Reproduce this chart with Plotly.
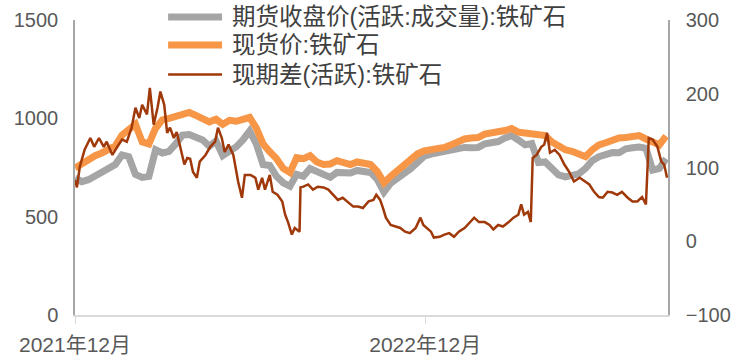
import pandas as pd
import plotly.graph_objects as go

# Weekly price observations (yuan/ton)
price_dates = pd.date_range("2021-12-01", periods=89, freq="7D")

futures_close = [697, 678, 688, 705, 727, 745, 765, 814, 805, 715,
                 700, 705, 840, 824, 832, 870, 915, 918, 905, 890,
                 858, 885, 810, 830, 855, 890, 935, 870, 765, 760,
                 705, 672, 655, 715, 705, 745, 730, 712, 700, 725,
                 725, 722, 735, 732, 725, 690, 625, 670, 700, 720,
                 745, 772, 808, 818, 825, 828, 833, 841, 852, 850,
                 852, 870, 878, 882, 900, 912, 890, 865, 872, 775,
                 778, 740, 712, 702, 708, 718, 745, 785, 805, 820,
                 826, 825, 845, 850, 854, 848, 737, 745, 795]

spot_price = [747, 770, 790, 810, 824, 838, 860, 915, 945, 970,
              880, 870, 950, 992, 1000, 1012, 1027, 1030, 1015, 1000,
              982, 995, 970, 990, 985, 995, 1005, 950, 870, 830,
              795, 745, 725, 800, 795, 810, 778, 765, 768, 785,
              775, 765, 778, 775, 765, 730, 672, 705, 735, 760,
              785, 820, 835, 840, 850, 852, 865, 882, 895, 900,
              902, 920, 925, 926, 938, 948, 930, 925, 920, 915,
              912, 880, 855, 840, 832, 815, 805, 840, 865, 876,
              890, 900, 903, 908, 912, 895, 875, 865, 910]

basis_dates = ["2021-12-01", "2021-12-03", "2021-12-06", "2021-12-11", "2021-12-17", "2021-12-21", "2021-12-26", "2021-12-31", "2022-01-03", "2022-01-09",
               "2022-01-14", "2022-01-19", "2022-01-24", "2022-01-29", "2022-02-02", "2022-02-06", "2022-02-09", "2022-02-14", "2022-02-17", "2022-02-21",
               "2022-02-25", "2022-02-28", "2022-03-04", "2022-03-07", "2022-03-10", "2022-03-14", "2022-03-17", "2022-03-21", "2022-03-25", "2022-03-28",
               "2022-03-31", "2022-04-03", "2022-04-07", "2022-04-10", "2022-04-16", "2022-04-21", "2022-04-26", "2022-04-29", "2022-05-03", "2022-05-06",
               "2022-05-10", "2022-05-15", "2022-05-20", "2022-05-24", "2022-05-27", "2022-06-02", "2022-06-07", "2022-06-10", "2022-06-14", "2022-06-17",
               "2022-06-22", "2022-06-25", "2022-06-30", "2022-07-05", "2022-07-08", "2022-07-11", "2022-07-15", "2022-07-18", "2022-07-22", "2022-07-23",
               "2022-07-24", "2022-07-27", "2022-08-01", "2022-08-06", "2022-08-11", "2022-08-17", "2022-08-22", "2022-08-27", "2022-09-01", "2022-09-06",
               "2022-09-12", "2022-09-17", "2022-09-22", "2022-09-27", "2022-10-03", "2022-10-08", "2022-10-11", "2022-10-15", "2022-10-18", "2022-10-21",
               "2022-10-26", "2022-10-31", "2022-11-05", "2022-11-10", "2022-11-15", "2022-11-21", "2022-11-26", "2022-11-29", "2022-12-04", "2022-12-07",
               "2022-12-10", "2022-12-16", "2022-12-21", "2022-12-26", "2022-12-31", "2023-01-05", "2023-01-11", "2023-01-16", "2023-01-21", "2023-01-26",
               "2023-02-01", "2023-02-06", "2023-02-10", "2023-02-15", "2023-02-20", "2023-02-26", "2023-03-03", "2023-03-08", "2023-03-11", "2023-03-14",
               "2023-03-18", "2023-03-21", "2023-03-23", "2023-03-27", "2023-04-01", "2023-04-04", "2023-04-07", "2023-04-10", "2023-04-15", "2023-04-20",
               "2023-04-25", "2023-04-30", "2023-05-05", "2023-05-11", "2023-05-16", "2023-05-21", "2023-05-26", "2023-05-31", "2023-06-04", "2023-06-09",
               "2023-06-14", "2023-06-19", "2023-06-24", "2023-06-30", "2023-07-05", "2023-07-10", "2023-07-15", "2023-07-19", "2023-07-22", "2023-07-26",
               "2023-07-31", "2023-08-04", "2023-08-07", "2023-08-10"]

basis = [83, 73, 101, 124, 140, 128, 140, 128, 135, 117,
         128, 138, 135, 154, 181, 167, 185, 172, 208, 158,
         181, 203, 185, 147, 154, 140, 148, 127, 104, 113,
         112, 94, 86, 108, 117, 128, 135, 154, 140, 121,
         131, 117, 81, 59, 90, 90, 86, 70, 86, 70,
         90, 67, 63, 54, 36, 26, 9, 18, 13, 13,
         73, 74, 77, 70, 74, 73, 70, 63, 56, 59,
         52, 47, 47, 45, 54, 56, 63, 56, 45, 32,
         22, 20, 18, 13, 11, 18, 32, 22, 16, 13,
         5, 6, 9, 11, 6, 13, 18, 25, 32, 26,
         26, 22, 16, 22, 20, 26, 32, 36, 50, 36,
         40, 26, 113, 117, 128, 131, 147, 120, 124, 117,
         104, 94, 81, 86, 81, 77, 67, 60, 59, 67,
         66, 63, 67, 59, 54, 54, 60, 50, 140, 138,
         128, 108, 104, 86]

series_names = ["期货收盘价(活跃:成交量):铁矿石", "现货价:铁矿石", "现期差(活跃):铁矿石"]
series_colors = ["#A5A5A5", "#F79646", "#A0390A"]
series_widths = [7, 7, 2.5]
x_tick_vals = ["2021-12-01", "2022-12-01"]
x_tick_text = ["2021年12月", "2022年12月"]
left_ticks = [0, 500, 1000, 1500]
right_ticks = [-100, 0, 100, 200, 300]

FONT = "Liberation Sans, Noto Sans CJK SC, sans-serif"
TICK_COLOR = "#595959"

fig = go.Figure()
fig.add_trace(go.Scatter(x=price_dates, y=futures_close, name=series_names[0], mode="lines",
                         line=dict(color=series_colors[0], width=series_widths[0])))
fig.add_trace(go.Scatter(x=price_dates, y=spot_price, name=series_names[1], mode="lines",
                         line=dict(color=series_colors[1], width=series_widths[1])))
fig.add_trace(go.Scatter(x=basis_dates, y=basis, name=series_names[2], mode="lines", yaxis="y2",
                         line=dict(color=series_colors[2], width=series_widths[2])))

# Legend drawn as key lines + text (top, centred over the plot)
legend_rows_y = [1.010, 0.915, 0.815]
for name, color, width, ly in zip(series_names, series_colors, series_widths, legend_rows_y):
    fig.add_shape(type="line", xref="paper", yref="paper", x0=0.157, x1=0.248, y0=ly, y1=ly,
                  line=dict(color=color, width=width))
    fig.add_annotation(xref="paper", yref="paper", x=0.262, y=ly, xanchor="left", yanchor="middle",
                       text=name, showarrow=False,
                       font=dict(family=FONT, size=23.5, color="#404040"))

fig.update_layout(
    width=740, height=361,
    margin=dict(l=75, r=72, t=20, b=46, autoexpand=False),
    paper_bgcolor="white", plot_bgcolor="white",
    font=dict(family=FONT, size=20, color=TICK_COLOR),
    showlegend=False,
    xaxis=dict(type="date", range=["2021-12-01", "2023-08-11"],
               tickvals=x_tick_vals, ticktext=x_tick_text,
               showline=True, linecolor="#D9D9D9", linewidth=1.5,
               ticks="outside", ticklen=7, tickcolor="#D9D9D9",
               showgrid=False, zeroline=False, ticklabelstandoff=3, automargin=False,
               tickfont=dict(family=FONT, size=21, color=TICK_COLOR)),
    yaxis=dict(range=[0, 1500], tickvals=left_ticks,
               showline=True, linecolor="#A6A6A6", linewidth=1.5,
               showgrid=False, zeroline=False, ticks="", ticklabelstandoff=11, automargin=False,
               tickfont=dict(family=FONT, size=20, color=TICK_COLOR)),
    yaxis2=dict(range=[-100, 300], tickvals=right_ticks, overlaying="y", side="right",
                showline=True, linecolor="#A6A6A6", linewidth=1.5,
                showgrid=False, zeroline=False, ticks="", ticklabelstandoff=12, automargin=False,
                tickfont=dict(family=FONT, size=20, color=TICK_COLOR)),
)

fig.write_html("out.html", config={"displayModeBar": False},
               post_script="document.body.style.margin='0';")
